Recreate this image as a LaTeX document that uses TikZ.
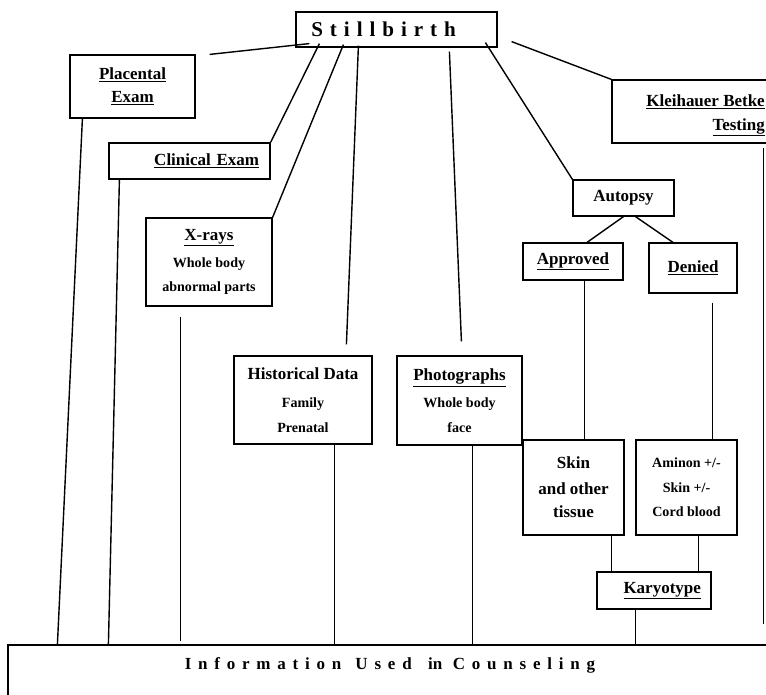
\documentclass[tikz,border=0pt]{standalone}
\usepackage{fontspec}
\setmainfont{Liberation Serif}
\newfontfamily\spacedfont[LetterSpace=33]{Liberation Serif}
\newfontfamily\widefont[LetterSpace=40]{Liberation Serif}
\usetikzlibrary{calc}
\newcommand{\smallline}[1]{{\fontsize{12}{21}\selectfont #1}}

\begin{document}
\begin{tikzpicture}[x=0.03cm, y=-0.03cm,
    box/.style={draw, line width=1pt, align=center, inner sep=2pt,
        font={\fontsize{14.5}{21}\selectfont\bfseries}},
    boxtext/.style={align=center, inner sep=0pt,
        font={\fontsize{14.5}{21}\selectfont\bfseries}},
    link/.style={line width=1.2pt}]

    \useasboundingbox (0,0) rectangle (766,694);
    \clip (0,0) rectangle (766,694);

    % Top box
    \node[box, minimum width=6.03cm, minimum height=1.05cm] (still) at (396.5,29.5)
        {\fontsize{18}{21}\selectfont\spacedfont\bfseries Stillbirth\hspace*{22pt}};

    % Left column
    \node[box, minimum width=3.75cm, minimum height=1.89cm] (placental) at (132.5,86.5)
        {\underline{Placental}\\[-1pt]\underline{Exam}};
    \node[box, minimum width=4.83cm, minimum height=1.08cm, text width=4.17cm,
        align=right, inner xsep=0.33cm] (clinical) at (189.5,161) {\underline{Clinical Exam}};
    \node[box, minimum width=3.78cm, minimum height=2.64cm] (xrays) at (209,262)
        {\underline{X-rays}\\[2pt]\smallline{Whole body}\\\smallline{abnormal parts}};

    % Middle
    \node[box, minimum width=4.14cm, minimum height=2.64cm] (history) at (303,400)
        {Historical Data\\[3pt]\smallline{Family}\\\smallline{Prenatal}};
    \node[box, minimum width=3.75cm, minimum height=2.67cm] (photos) at (459.5,400.5)
        {\underline{Photographs}\\[2pt]\smallline{Whole body}\\\smallline{face}};

    % Autopsy branch
    \node[box, minimum width=3.03cm, minimum height=1.08cm] (autopsy) at (623.5,198) {Autopsy};
    \node[box, minimum width=3.0cm, minimum height=1.11cm] (approved) at (573,261.5) {\underline{Approved}};
    \node[box, minimum width=2.64cm, minimum height=1.5cm] (denied) at (693,268) {\underline{Denied}};
    \node[box, minimum width=3.03cm, minimum height=2.85cm] (skin) at (573.5,487.5)
        {Skin\\[1pt]and other\\[-1pt]tissue};
    \node[box, minimum width=3.03cm, minimum height=2.85cm] (amnion) at (686.5,487.5)
        {\smallline{Aminon +/-}\\\smallline{Skin +/-}\\\smallline{Cord blood}};
    \node[box, minimum width=3.42cm, minimum height=1.11cm] (karyo) at (654,590.5)
        {\hspace*{14pt}\underline{Karyotype}};

    % Right box, runs off the page
    \node[box, minimum width=5.64cm, minimum height=1.89cm] (kleihauer) at (706,111.5) {};
    \node[boxtext, anchor=east, align=right] (kbtext) at (765,115.5)
        {\underline{Kleihauer Betke}\\[-1pt]\underline{Testing}};

    % Bottom box
    \node[box, minimum width=23.76cm, minimum height=2.25cm] (counsel) at (404,682.5) {};
    \node[boxtext] (countext) at (390,665)
        {{\widefont Information}\hspace{12pt}{\widefont Used}\hspace{14pt}in\hspace{9pt}{\widefont Counseling}};

    % Stillbirth to its branches
    \draw[link] ($(still.south west)+(14,-4)$) -- ($(placental.north east)+(14,0)$);
    \draw[link] ($(still.south west)+(24,-4)$) -- (clinical.north east);
    \draw[link] ($(still.south west)+(48,-3)$) -- (xrays.north east);
    \draw[link] ($(still.south west)+(63,-2)$) -- ($(history.north west)+(113,-11)$);
    \draw[link] ($(still.south west)+(154,4)$) -- ($(photos.north west)+(65,-14)$);
    \draw[link] ($(still.south west)+(190,-5)$) -- (autopsy.north west);
    \draw[link] ($(still.south east)+(14,-6)$) -- (kleihauer.north west);

    % Autopsy branch
    \draw[link] (autopsy.south) -- ($(approved.north)+(14,0)$);
    \draw[link] ($(autopsy.south)+(12,0)$) -- ($(denied.north)+(-20,0)$);
    \draw[link] ($(approved.south west)+(62,0)$) coordinate (a1) -- (a1 |- skin.north);
    \draw[link] ($(denied.south west)+(64,9)$) coordinate (d1) -- (d1 |- amnion.north);
    \draw[link] ($(skin.south west)+(89,0)$) coordinate (k1) -- (k1 |- karyo.north);
    \draw[link] ($(amnion.south west)+(63,0)$) coordinate (k2) -- (k2 |- karyo.north);

    % Down to counseling
    \draw[link] ($(placental.south west)+(13,0)$) -- ($(counsel.north west)+(50,0)$);
    \draw[link] ($(clinical.south west)+(11,0)$) -- ($(counsel.north west)+(101,0)$);
    \draw[link] ($(xrays.south west)+(35,10)$) coordinate (x1) -- ($(x1 |- counsel.north)+(0,-3)$);
    \draw[link] ($(history.south west)+(101,0)$) coordinate (h1) -- (h1 |- counsel.north);
    \draw[link] ($(photos.south west)+(76,0)$) coordinate (p1) -- (p1 |- counsel.north);
    \draw[link] ($(karyo.south west)+(39,0)$) coordinate (k3) -- (k3 |- counsel.north);
    \draw[link] ($(kleihauer.south west)+(152,4)$) coordinate (t1) -- ($(t1 |- counsel.north)+(0,-20)$);

\end{tikzpicture}
\end{document}
